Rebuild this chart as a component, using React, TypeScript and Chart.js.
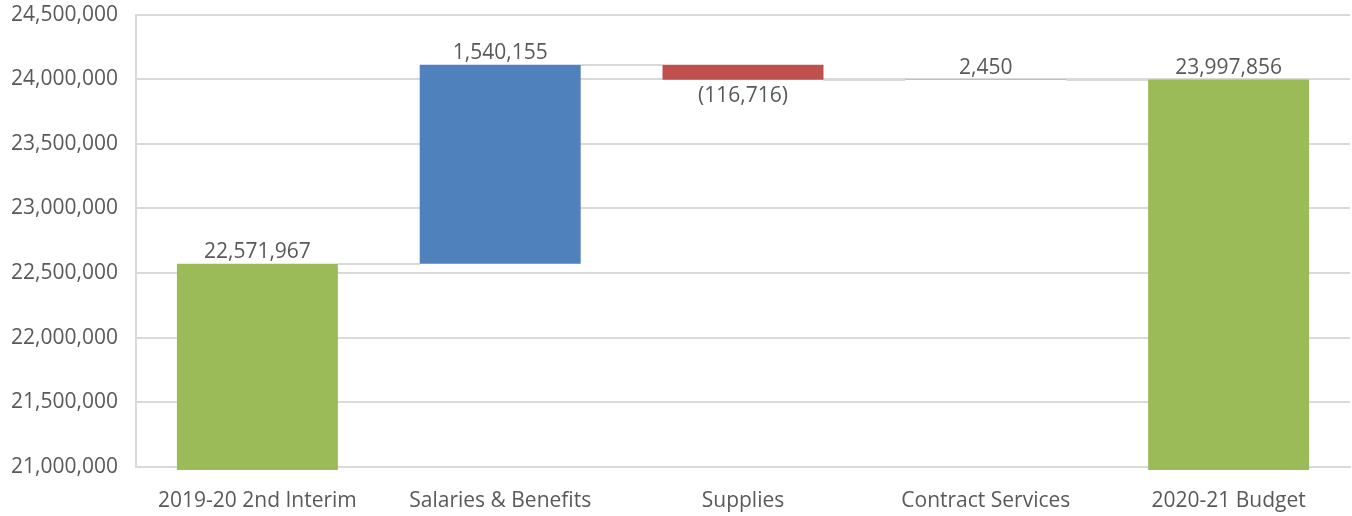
import React, { useEffect, useRef } from "react";
import { Chart, registerables } from "chart.js";

Chart.register(...registerables);

const categories = ["2019-20 2nd Interim", "Salaries & Benefits", "Supplies", "Contract Services", "2020-21 Budget"];
const changes = [22571967, 1540155, -116716, 2450, 23997856];
const isTotal = [true, false, false, false, true];
const labels = ["22,571,967", "1,540,155", "(116,716)", "2,450", "23,997,856"];
const yTicks = [21000000, 21500000, 22000000, 22500000, 23000000, 23500000, 24000000, 24500000];

const GREEN = "#9BBB59";
const BLUE = "#4F81BD";
const RED = "#C0504D";
const FONT = "'Open Sans', sans-serif";

export default function App() {
  const ref = useRef<HTMLCanvasElement>(null);
  useEffect(() => {
    document.body.style.margin = "0";
    const ranges: [number, number][] = [];
    const ends: number[] = [];
    let run = 0;
    changes.forEach((v, i) => {
      if (isTotal[i]) {
        ranges.push([0, v]);
        run = v;
      } else {
        ranges.push([run, run + v]);
        run = run + v;
      }
      ends.push(run);
    });
    const colors = changes.map((v, i) => (isTotal[i] ? GREEN : v >= 0 ? BLUE : RED));

    const overlay = {
      id: "overlay",
      beforeDatasetsDraw(chart: any) {
        const ctx = chart.ctx;
        const meta = chart.getDatasetMeta(0);
        const y = chart.scales.y;
        ctx.save();
        ctx.strokeStyle = "#D9D9D9";
        ctx.lineWidth = 2;
        for (let i = 0; i < ranges.length - 1; i++) {
          const a = meta.data[i];
          const b = meta.data[i + 1];
          const py = Math.round(y.getPixelForValue(ends[i]));
          ctx.beginPath();
          ctx.moveTo(a.x + a.width / 2, py);
          ctx.lineTo(b.x - b.width / 2, py);
          ctx.stroke();
        }
        ctx.restore();
      },
      afterDatasetsDraw(chart: any) {
        const ctx = chart.ctx;
        const meta = chart.getDatasetMeta(0);
        const y = chart.scales.y;
        ctx.save();
        ctx.fillStyle = "#595959";
        ctx.font = `21px ${FONT}`;
        ctx.textAlign = "center";
        meta.data.forEach((el: any, i: number) => {
          const r = ranges[i];
          const top = Math.max(r[0], r[1]);
          const bot = Math.min(r[0], r[1]);
          if (changes[i] >= 0) {
            ctx.textBaseline = "bottom";
            ctx.fillText(labels[i], el.x, y.getPixelForValue(top) - 1);
          } else {
            ctx.textBaseline = "top";
            ctx.fillText(labels[i], el.x, y.getPixelForValue(bot) + 6);
          }
        });
        ctx.restore();
      },
    };

    const chart = new Chart(ref.current!, {
      type: "bar",
      data: {
        labels: categories,
        datasets: [
          {
            data: ranges as any,
            backgroundColor: colors,
            borderWidth: 0,
            categoryPercentage: 1,
            barPercentage: 0.663,
            clip: { left: 0, top: 0, right: 0, bottom: 3 } as any,
          },
        ],
      },
      options: {
        animation: false,
        responsive: false,
        maintainAspectRatio: false,
        layout: { padding: { left: 0, right: 2, top: 0, bottom: 0 } },
        plugins: { legend: { display: false }, tooltip: { enabled: false } },
        scales: {
          x: {
            grid: { display: false, drawTicks: false },
            border: { display: true, color: "#D9D9D9", width: 2 },
            ticks: { color: "#595959", font: { family: FONT, size: 21 }, padding: 21 },
            afterFit: (axis: any) => {
              axis.height = 49;
            },
          },
          y: {
            min: 21000000,
            max: 24500000,
            afterBuildTicks: (axis: any) => {
              axis.ticks = yTicks.map((v) => ({ value: v }));
            },
            afterFit: (axis: any) => {
              axis.width = 136;
            },
            grid: { color: "#D9D9D9", lineWidth: 2, drawTicks: false },
            border: { display: true, color: "#D9D9D9", width: 2 },
            ticks: {
              color: "#595959",
              font: { family: FONT, size: 21 },
              padding: 18,
              callback: (v: any) => Number(v).toLocaleString("en-US"),
            },
          },
        },
      },
      plugins: [overlay],
    });
    return () => chart.destroy();
  }, []);
  return (
    <div style={{ width: 1352, height: 516, overflow: "hidden" }}>
      <canvas ref={ref} width={1352} height={532} style={{ display: "block", marginTop: -16 }} />
    </div>
  );
}
